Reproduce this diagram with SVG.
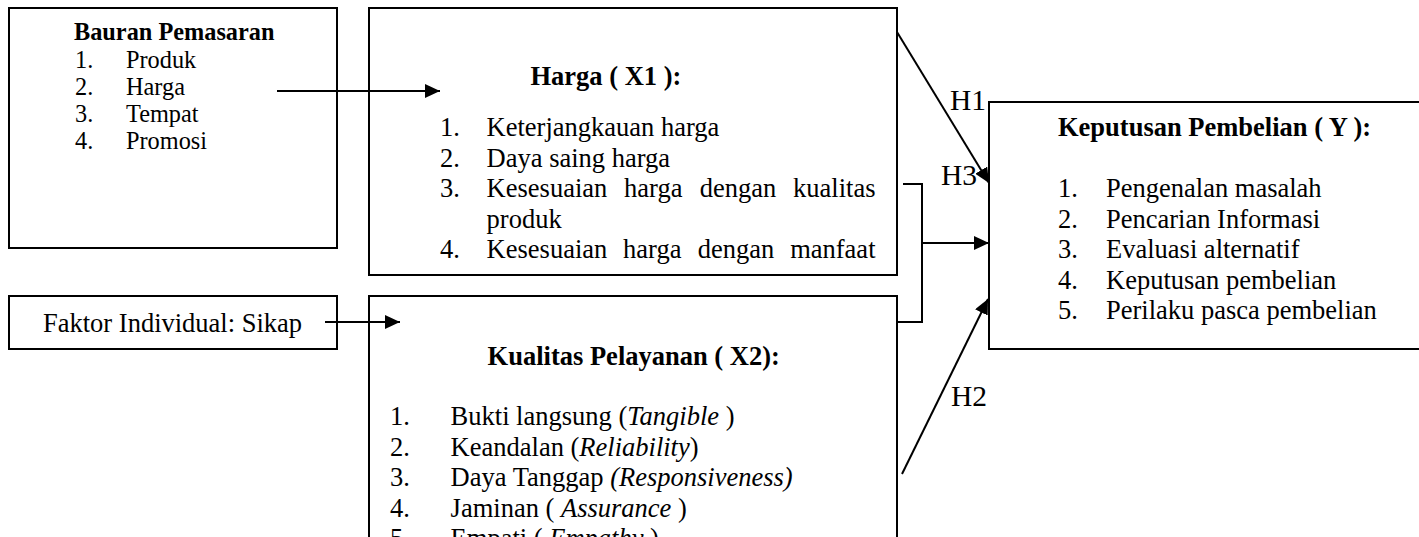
<svg xmlns="http://www.w3.org/2000/svg" width="1419" height="537" viewBox="0 0 1419 537">
<defs>
<marker id="ah" markerWidth="15" markerHeight="14" refX="15" refY="7" orient="auto" markerUnits="userSpaceOnUse" viewBox="0 0 15 14">
<path d="M0,0 L15,7 L0,14 z" fill="#000"/>
</marker>
</defs>
<style>
.box{fill:#fff;stroke:#000;stroke-width:2}
.t{font-family:"Liberation Serif","Times New Roman",serif;font-size:26.5px;fill:#000}
.s{font-size:24.3px}
.b{font-weight:bold}
.i{font-style:italic}
.h{font-family:"Liberation Serif","Times New Roman",serif;font-size:29.5px;fill:#000}
.ln{fill:none;stroke:#000;stroke-width:2}
.arr{fill:none;stroke:#000;stroke-width:2;marker-end:url(#ah)}
</style>
<rect width="1419" height="537" fill="#fff"/>

<g id="bauran">
<rect class="box" x="9" y="8" width="328" height="240"/>
<text class="t s b" x="74" y="40">Bauran Pemasaran</text>
<text class="t s" x="75" y="67.5">1.</text><text class="t s" x="126" y="67.5">Produk</text>
<text class="t s" x="75" y="95">2.</text><text class="t s" x="126" y="95">Harga</text>
<text class="t s" x="75" y="122">3.</text><text class="t s" x="126" y="122">Tempat</text>
<text class="t s" x="75" y="149">4.</text><text class="t s" x="126" y="149">Promosi</text>
</g>

<g id="harga">
<rect class="box" x="369" y="8" width="528" height="267"/>
<text class="t b" x="530.5" y="85">Harga ( X1 ):</text>
<text class="t" x="440" y="136">1.</text><text class="t" x="486.6" y="136">Keterjangkauan harga</text>
<text class="t" x="440" y="166.5">2.</text><text class="t" x="486.6" y="166.5">Daya saing harga</text>
<text class="t" x="440" y="197">3.</text>
<text class="t" y="197"><tspan x="486.6">Kesesuaian</tspan><tspan x="624.1">harga</tspan><tspan x="699.8">dengan</tspan></text>
<text class="t" x="875.5" y="197" text-anchor="end">kualitas</text>
<text class="t" x="486.6" y="227.5">produk</text>
<text class="t" x="440" y="258">4.</text>
<text class="t" y="258"><tspan x="486.6">Kesesuaian</tspan><tspan x="623.1">harga</tspan><tspan x="697.8">dengan</tspan></text>
<text class="t" x="875.5" y="258" text-anchor="end">manfaat</text>
</g>

<g id="faktor">
<rect class="box" x="9" y="296" width="328" height="53"/>
<text class="t" x="43" y="332">Faktor Individual: Sikap</text>
</g>

<g id="kualitas">
<rect class="box" x="369" y="296" width="528" height="260"/>
<text class="t b" x="487.6" y="365">Kualitas Pelayanan ( X2):</text>
<text class="t" x="390" y="425">1.</text><text class="t" x="450.6" y="425">Bukti langsung (<tspan class="i">Tangible</tspan> )</text>
<text class="t" x="390" y="455.5">2.</text><text class="t" x="450.6" y="455.5">Keandalan (<tspan class="i">Reliability</tspan>)</text>
<text class="t" x="390" y="486">3.</text><text class="t" x="450.6" y="486">Daya Tanggap <tspan class="i">(Responsiveness)</tspan></text>
<text class="t" x="390" y="516.5">4.</text><text class="t" x="450.6" y="516.5">Jaminan ( <tspan class="i">Assurance</tspan> )</text>
<text class="t" x="390" y="547">5.</text><text class="t" x="450.6" y="547">Empati ( <tspan class="i">Empathy</tspan> )</text>
</g>

<g id="keputusan">
<rect class="box" x="989" y="102" width="450" height="247"/>
<text class="t b" x="1058" y="136">Keputusan Pembelian ( Y ):</text>
<text class="t" x="1058" y="197">1.</text><text class="t" x="1106" y="197">Pengenalan masalah</text>
<text class="t" x="1058" y="227.5">2.</text><text class="t" x="1106" y="227.5">Pencarian Informasi</text>
<text class="t" x="1058" y="258">3.</text><text class="t" x="1106" y="258">Evaluasi alternatif</text>
<text class="t" x="1058" y="288.5">4.</text><text class="t" x="1106" y="288.5">Keputusan pembelian</text>
<text class="t" x="1058" y="319">5.</text><text class="t" x="1106" y="319">Perilaku pasca pembelian</text>
</g>

<g id="connectors">
<line class="arr" x1="277" y1="91" x2="440" y2="91"/>
<line class="arr" x1="325" y1="322" x2="400" y2="322"/>
<line class="arr" x1="897" y1="32" x2="989" y2="183"/>
<polyline class="ln" points="903,184 922,184 922,322 897,322"/>
<line class="arr" x1="922" y1="243" x2="989" y2="243"/>
<line class="arr" x1="902" y1="474" x2="988" y2="299"/>
<text class="h" x="950" y="110">H1</text>
<text class="h" x="941" y="185">H3</text>
<text class="h" x="951" y="406">H2</text>
</g>
</svg>
